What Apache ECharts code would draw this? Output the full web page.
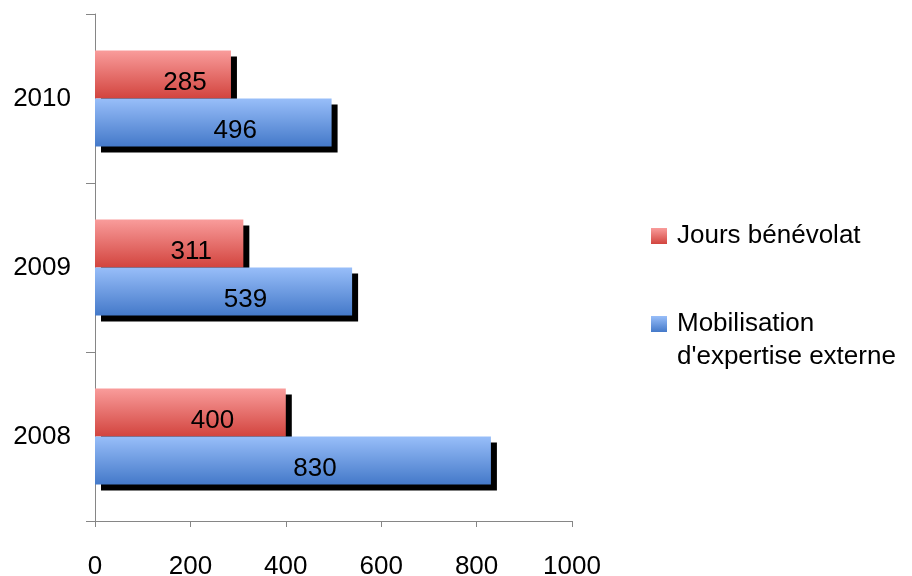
<!DOCTYPE html>
<html>
<head>
<meta charset="utf-8">
<script src="https://cdn.jsdelivr.net/npm/echarts@6/dist/echarts.min.js"></script>
<style>html,body{margin:0;padding:0;background:#fff}#c{width:912px;height:576px}</style>
</head>
<body>
<div id="c"></div>
<script>
const years = ['2008', '2009', '2010'];
const seriesNames = ['Jours bénévolat', "Mobilisation d'expertise externe"];
const jours = [400, 311, 285];
const mobilisation = [830, 539, 496];
const xTicks = [0, 200, 400, 600, 800, 1000];

const FONT = 'Liberation Sans';
const FS = 26;
const chart = echarts.init(document.getElementById('c'), null, {renderer: 'canvas'});
function grad(top, bottom) {
  return new echarts.graphic.LinearGradient(0, 0, 0, 1, [
    {offset: 0, color: top}, {offset: 1, color: bottom}
  ]);
}
const shadow = {shadowColor: '#000', shadowBlur: 0, shadowOffsetX: 6, shadowOffsetY: 6};
const labelStyle = {show: true, position: 'inside', offset: [22, 8], color: '#000', fontFamily: FONT, fontSize: FS};
chart.setOption({
  animation: false,
  backgroundColor: '#fff',
  grid: {left: 95, top: 14, width: 477, height: 507, containLabel: false, outerBoundsMode: 'none'},
  legend: {
    orient: 'vertical', left: 651, top: 223, padding: 0,
    data: seriesNames,
    icon: 'rect', itemWidth: 16, itemHeight: 16, itemGap: 29,
    formatter: function (n) {
      return n === seriesNames[1]
        ? "{s| }\n{a|Mobilisation}\n{a|d'expertise externe}"
        : '{a|' + n + '}';
    },
    textStyle: {
      fontFamily: FONT, fontSize: FS, color: '#000', padding: [0, 0, 0, 5],
      rich: {
        a: {fontFamily: FONT, fontSize: FS, color: '#000', lineHeight: 33},
        s: {fontFamily: FONT, fontSize: FS, lineHeight: 33}
      }
    },
    itemStyle: {shadowBlur: 0, shadowOffsetX: 0, shadowOffsetY: 0, shadowColor: 'rgba(0,0,0,0)'}
  },
  xAxis: {
    type: 'value', min: xTicks[0], max: xTicks[xTicks.length - 1], interval: 200,
    axisLine: {show: true, lineStyle: {color: '#868686', width: 1}},
    axisTick: {show: true, length: 6, lineStyle: {color: '#868686'}},
    splitLine: {show: false},
    axisLabel: {margin: 33, color: '#000', fontFamily: FONT, fontSize: FS, formatter: function (v) { return String(v); }}
  },
  yAxis: {
    type: 'category', data: years,
    axisLine: {show: true, lineStyle: {color: '#868686', width: 1}},
    axisTick: {show: true, length: 9, lineStyle: {color: '#868686'}},
    axisLabel: {margin: 24, padding: [10, 0, 0, 0], color: '#000', fontFamily: FONT, fontSize: FS}
  },
  series: [
    {
      name: seriesNames[0], type: 'bar', data: jours, z: 2,
      barWidth: 48, barGap: '0%',
      itemStyle: Object.assign({color: grad('#f99c9b', '#d2443e')}, shadow),
      label: labelStyle
    },
    {
      name: seriesNames[1], type: 'bar', data: mobilisation, z: 3,
      barWidth: 48, barGap: '0%',
      itemStyle: Object.assign({color: grad('#98bef9', '#4479c9')}, shadow),
      label: labelStyle
    }
  ]
});
</script>
</body>
</html>
